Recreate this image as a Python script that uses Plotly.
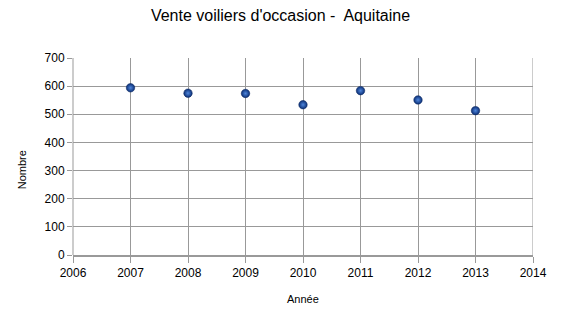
import plotly.graph_objects as go

years = [2007, 2008, 2009, 2010, 2011, 2012, 2013]
values = [594, 575, 574, 534, 584, 551, 513]

x_ticks = list(range(2006, 2015))
y_ticks = list(range(0, 701, 100))

fig = go.Figure()
fig.add_trace(go.Scatter(
    x=years, y=values, mode="markers",
    marker=dict(size=8.5, color="#0b2f76",
                gradient=dict(type="radial", color="#4f86dc"),
                line=dict(width=0.5, color="#08245c")),
    showlegend=False,
))

font_family = "Liberation Sans, Arial, sans-serif"
fig.update_layout(
    width=561, height=310,
    margin=dict(l=73, r=28, t=58, b=55, autoexpand=False),
    paper_bgcolor="white", plot_bgcolor="white",
    font=dict(family=font_family, size=12, color="black"),
    title=dict(text="Vente voiliers d'occasion -  Aquitaine", x=0.5, xanchor="center",
               y=1 - 10 / 310, yanchor="top", font=dict(size=16, family=font_family)),
    xaxis=dict(range=[2006, 2014], tickvals=x_ticks, ticktext=[str(v) for v in x_ticks],
               showgrid=True, gridcolor="#999999", gridwidth=1,
               showline=True, linecolor="#999999", linewidth=2, mirror=False,
               ticks="outside", ticklen=6, tickcolor="#999999",
               zeroline=False, automargin=False),
    yaxis=dict(range=[0, 700], tickvals=y_ticks,
               showgrid=True, gridcolor="#999999", gridwidth=1,
               showline=False, ticks="outside", ticklen=5, tickcolor="#999999",
               zeroline=False, automargin=False),
    annotations=[
        dict(text="Année", xref="paper", yref="paper", x=0.5, y=-44 / 197,
             xanchor="center", yanchor="middle", showarrow=False, font=dict(size=11)),
        dict(text="Nombre", xref="paper", yref="paper", x=-51 / 460, y=0.43,
             xanchor="center", yanchor="middle", showarrow=False, textangle=-90,
             font=dict(size=11)),
    ],
)
fig.add_shape(type="line", xref="x", yref="paper", x0=2014, x1=2014, y0=0, y1=1,
              line=dict(color="#999999", width=1))
fig.add_shape(type="line", xref="paper", yref="paper", x0=0, x1=0, y0=0, y1=1,
              line=dict(color="#999999", width=1))
fig.write_html("out.html")
